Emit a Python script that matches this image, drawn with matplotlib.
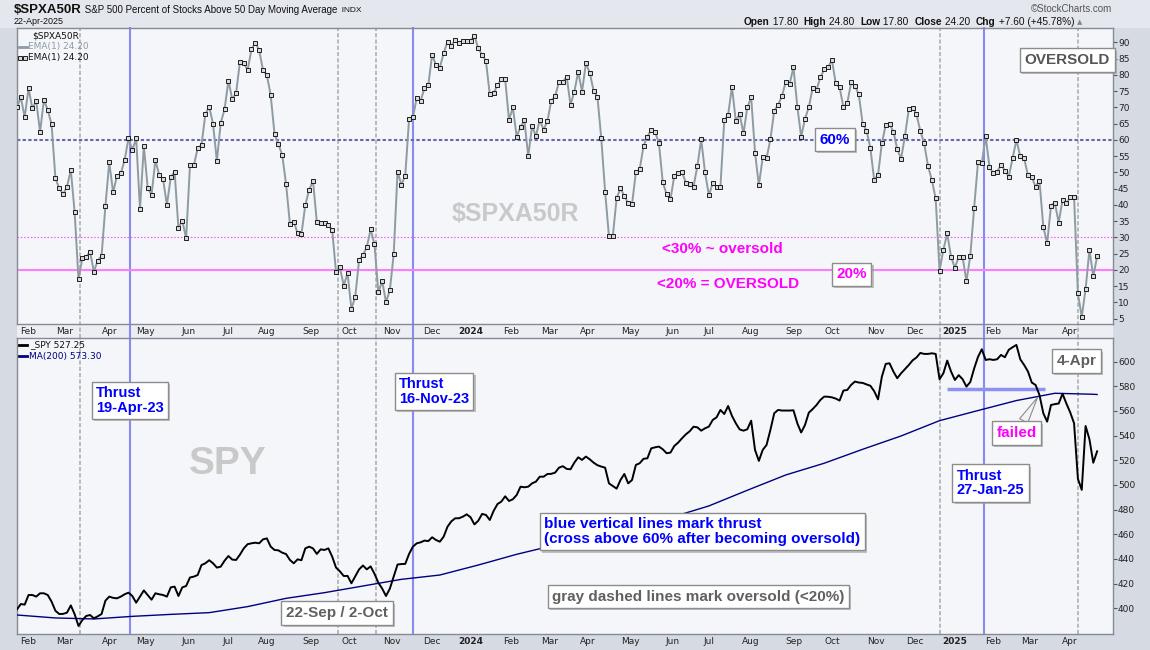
import numpy as np
import pandas as pd
import matplotlib
matplotlib.use('Agg')
import matplotlib.pyplot as plt
import matplotlib.patheffects as pe
from matplotlib.lines import Line2D
from matplotlib.patches import Rectangle

plt.rcParams['font.family'] = ['Liberation Sans', 'DejaVu Sans']

W, H = 1150, 650

# NYSE trading calendar for the charted span
holidays = ['2023-02-20', '2023-04-07', '2023-05-29', '2023-06-19', '2023-07-04',
            '2023-09-04', '2023-11-23', '2023-12-25', '2024-01-01', '2024-01-15',
            '2024-02-19', '2024-03-29', '2024-05-27', '2024-06-19', '2024-07-04',
            '2024-09-02', '2024-11-28', '2024-12-25', '2025-01-01', '2025-01-09',
            '2025-01-20', '2025-02-17', '2025-04-18']
days = pd.bdate_range('2023-01-24', '2025-04-22', freq='C', holidays=holidays)
step = 2  # one reading every second trading day

# $SPXA50R, % of S&P 500 stocks above their 50-day MA
pct = [70.1, 73.1, 67.0, 75.9, 69.7, 72.0, 62.5, 72.3, 69.2, 64.8,
       48.2, 45.1, 43.3, 45.6, 50.8, 37.7, 17.2, 23.6, 24.1, 25.6,
       19.5, 22.9, 24.3, 39.7, 53.1, 43.9, 48.9, 49.7, 53.8, 60.5,
       56.9, 60.5, 38.7, 58.2, 45.3, 43.1, 53.8, 49.2, 47.9, 40.0,
       48.5, 50.3, 32.8, 35.2, 29.7, 52.2, 52.2, 57.4, 58.5, 67.9,
       70.3, 64.9, 53.5, 65.3, 69.4, 78.3, 72.5, 74.4, 84.1, 83.6,
       81.5, 87.9, 89.9, 87.7, 81.5, 80.0, 73.8, 61.8, 58.7, 55.4,
       46.4, 34.2, 34.9, 31.3, 31.0, 40.0, 44.6, 47.5, 34.8, 34.6,
       34.4, 33.8, 32.3, 19.3, 20.8, 15.2, 19.0, 8.0, 11.8, 23.1,
       24.6, 27.0, 32.5, 27.9, 13.1, 16.6, 10.1, 13.8, 24.8, 50.3,
       46.2, 49.0, 66.4, 67.0, 73.0, 72.0, 75.9, 76.9, 86.2, 83.1,
       82.3, 86.7, 90.3, 89.0, 90.8, 89.7, 90.5, 90.5, 90.5, 92.1,
       88.2, 86.2, 84.3, 74.0, 74.5, 76.8, 78.7, 78.7, 66.2, 70.0,
       61.0, 64.1, 66.0, 55.0, 64.3, 61.2, 66.2, 63.1, 65.9, 72.1,
       73.5, 77.9, 77.9, 79.5, 70.8, 74.9, 81.0, 74.9, 83.6, 80.7,
       75.2, 73.3, 60.5, 44.1, 30.4, 30.4, 42.1, 45.1, 42.8, 40.5,
       40.2, 50.1, 51.0, 58.2, 61.0, 63.1, 62.5, 59.0, 47.0, 43.3,
       41.7, 49.0, 49.7, 50.1, 46.9, 46.5, 45.6, 52.0, 60.2, 50.0,
       43.0, 46.7, 45.6, 45.6, 66.0, 67.7, 76.4, 65.9, 67.9, 62.0,
       70.1, 73.1, 56.1, 46.0, 54.7, 54.4, 60.2, 69.0, 70.8, 73.5,
       77.9, 77.2, 82.4, 70.3, 61.0, 66.5, 70.1, 76.0, 75.4, 79.3,
       81.7, 82.4, 84.6, 77.4, 76.2, 70.1, 71.3, 77.7, 76.6, 74.0,
       65.0, 62.9, 57.6, 47.7, 49.2, 59.0, 64.6, 64.9, 62.6, 57.2,
       54.2, 61.2, 69.5, 69.9, 67.9, 62.8, 59.0, 52.0, 47.7, 42.0,
       19.8, 26.2, 31.3, 24.0, 20.7, 24.1, 23.9, 16.6, 24.3, 39.0,
       53.1, 52.8, 61.2, 51.6, 49.7, 50.3, 52.3, 50.6, 48.7, 54.4,
       60.0, 55.0, 54.4, 49.2, 48.5, 45.6, 47.5, 33.3, 28.2, 39.8,
       40.7, 34.6, 41.5, 40.5, 42.4, 42.5, 12.8, 5.6, 14.1, 26.2,
       18.0, 24.2]

# SPY close, same dates
spy = [399.2, 403.5, 403.0, 410.8, 410.8, 409.5, 412.2, 412.2, 410.8, 405.4,
       398.0, 395.4, 395.5, 396.5, 402.4, 395.2, 385.7, 390.5, 393.8, 394.6,
       391.9, 393.5, 395.4, 406.2, 409.5, 408.5, 408.1, 409.5, 411.4, 412.7,
       410.0, 404.6, 409.5, 414.5, 410.8, 407.0, 412.2, 411.4, 410.8, 409.5,
       417.0, 417.6, 410.0, 417.0, 418.1, 425.0, 425.7, 427.0, 435.1, 436.5,
       439.0, 436.5, 433.0, 433.8, 438.6, 442.4, 439.5, 439.2, 443.5, 448.6,
       452.0, 452.7, 453.2, 452.7, 455.9, 456.7, 450.0, 447.3, 447.0, 445.1,
       444.0, 439.2, 436.5, 439.7, 439.0, 448.6, 450.0, 448.6, 444.1, 447.8,
       447.3, 448.6, 441.9, 433.0, 430.0, 426.2, 426.3, 420.3, 426.0, 431.6,
       434.7, 431.6, 434.0, 428.0, 420.8, 416.0, 410.0, 416.0, 425.7, 435.5,
       435.9, 436.0, 444.1, 450.0, 452.7, 453.5, 454.9, 454.5, 457.6, 455.4,
       454.0, 458.1, 466.2, 470.5, 473.0, 473.0, 474.3, 476.2, 473.8, 468.0,
       471.0, 476.5, 475.7, 471.6, 479.0, 484.5, 486.5, 490.8, 487.0, 488.4,
       491.9, 498.6, 498.1, 498.6, 501.3, 502.7, 506.7, 506.7, 508.9, 509.0,
       510.0, 514.0, 515.2, 513.0, 512.7, 518.1, 522.4, 520.3, 523.0, 520.8,
       518.1, 516.0, 514.9, 514.0, 501.3, 499.2, 497.0, 504.0, 508.9, 501.3,
       504.0, 516.2, 517.6, 521.2, 521.6, 529.7, 530.5, 531.1, 528.9, 525.7,
       526.2, 531.6, 534.3, 537.8, 541.0, 543.5, 547.2, 546.7, 544.0, 545.9,
       547.3, 552.7, 554.8, 560.8, 557.5, 564.0, 556.0, 550.0, 545.0, 544.0,
       545.1, 552.1, 528.4, 519.5, 528.4, 532.4, 544.6, 558.1, 560.8, 560.3,
       560.3, 560.3, 560.5, 550.0, 542.5, 548.6, 558.6, 561.5, 564.8, 568.9,
       571.6, 571.5, 571.0, 570.0, 568.4, 576.5, 577.0, 581.1, 583.8, 583.0,
       582.7, 581.5, 580.4, 576.0, 569.4, 587.8, 598.1, 598.6, 591.9, 586.5,
       590.5, 593.8, 597.2, 601.0, 603.3, 607.0, 606.2, 606.2, 606.7, 606.2,
       585.7, 590.5, 600.8, 591.9, 585.1, 589.0, 585.7, 579.7, 583.4, 594.3,
       603.7, 610.0, 601.3, 601.9, 601.3, 601.9, 605.4, 603.5, 609.5, 611.6,
       613.5, 601.9, 597.3, 592.0, 583.0, 581.0, 572.9, 558.1, 551.3, 564.8,
       565.5, 566.0, 573.9, 566.0, 558.8, 550.0, 505.0, 496.0, 547.8, 537.0,
       518.0, 527.25]

# SPY 200-day moving average, one reading every 20 trading days
ma_step = 20
ma200 = [394.6, 392.2, 391.4, 393.5, 395.1, 396.5, 401.4, 408.1, 412.7, 418.1,
         423.5, 427.0, 435.1, 443.8, 451.3, 458.1, 466.2, 473.5, 483.0, 495.7,
         508.1, 517.6, 528.9, 539.7, 552.1, 560.3, 568.4, 574.3, 573.5]
ma200_last = 573.30

thrust_dates = ['2023-04-19', '2023-11-16', '2025-01-27']
oversold_dates = ['2023-03-13', '2023-09-22', '2023-10-20', '2024-12-19', '2025-04-07']
month_names = ['Jan', 'Feb', 'Mar', 'Apr', 'May', 'Jun', 'Jul', 'Aug', 'Sep', 'Oct', 'Nov', 'Dec']


def day(s):
    return days.get_loc(pd.Timestamp(s))


x = np.arange(len(pct)) * step
x_ma = np.append(np.arange(len(ma200)) * ma_step, len(days) - 1)
ma_line = ma200 + [ma200_last]

fig = plt.figure(figsize=(W / 100, H / 100), dpi=100, facecolor='#d6dae2')


def P(px, py):
    return px / W, 1 - py / H


# header strip and the gap between the panels
fig.patches.append(Rectangle((0, 1 - 28 / H), 1, 28 / H, transform=fig.transFigure,
                             fc='#e4e7ed', ec='none', zorder=-1))
fig.patches.append(Rectangle((16.5 / W, 1 - 338 / H), 1096 / W, 14 / H, transform=fig.transFigure,
                             fc='#eceef3', ec='none', zorder=-1))

left, width = 16.5 / W, 1096 / W
ax1 = fig.add_axes([left, (H - 324) / H, width, 296 / H])
ax2 = fig.add_axes([left, (H - 634) / H, width, 296 / H])

for ax in (ax1, ax2):
    ax.set_facecolor('#f4f6fa')
    for sp in ax.spines.values():
        sp.set_color('#858a94')
        sp.set_linewidth(1)
    ax.set_xlim(-0.26, 570)
    ax.yaxis.tick_right()
    ax.tick_params(axis='y', length=3, width=0.8, color='#555', pad=1, labelsize=6.5,
                   labelcolor='#222', labelfontfamily='DejaVu Sans')
    ax.tick_params(axis='x', length=0, pad=2.5, labelsize=6.5, labelcolor='#222',
                   labelfontfamily='DejaVu Sans')

# month labels at the first trading day of each month
pos = pd.Series(np.arange(len(days)), index=days)
firsts = pos.groupby(days.to_period('M')).first().iloc[1:]
tick_pos = firsts.values
tick_lab = [str(p.year) if p.month == 1 else month_names[p.month - 1] for p in firsts.index]
gap = 14 / 296
for ax in (ax1, ax2):
    ax.set_xticks(tick_pos)
    ax.set_xticklabels(tick_lab)
    for t in ax.get_xticklabels():
        if t.get_text().isdigit():
            t.set_fontweight('bold')

# vertical marker lines (carry on through the gap between panels)
for d in thrust_dates:
    ax1.axvline(day(d), ymin=-gap, ymax=1, color='#8a8af2', lw=1.5, zorder=1, clip_on=False)
    ax2.axvline(day(d), color='#8a8af2', lw=1.5, zorder=1)
for d in oversold_dates:
    ax1.axvline(day(d), ymin=-gap, ymax=1, color='#a9a9a9', lw=1.1, ls=(0, (2.7, 1.4)),
                zorder=1, clip_on=False)
    ax2.axvline(day(d), color='#a9a9a9', lw=1.1, ls=(0, (2.7, 1.4)), zorder=1)

# ---- top panel
ax1.set_ylim(3.38, 94.46)
ax1.set_yticks(range(5, 95, 5))
ax1.axhline(60, color='#6767b2', lw=1.5, ls=(0, (1.6, 1.1)), zorder=1)
ax1.axhline(30, color='#ff55ff', lw=0.8, ls=(0, (1.4, 1.6)), zorder=1)
ax1.axhline(20, color='#ff7cff', lw=1.5, zorder=1)
ax1.text(0.4548, 0.3716, '$SPXA50R', transform=ax1.transAxes, ha='center', va='center',
         fontsize=18, fontweight='bold', color='#c9c9c9', zorder=0.5)
ax1.plot(x, pct, color='#8e9ba3', lw=1.4, zorder=3)
ax1.plot(x, pct, ls='none', marker='s', ms=2.4, mfc='#d8d8d8', mec='#111', mew=0.65, zorder=4)

# ---- bottom panel
ax2.set_ylim(379.2, 619.1)
ax2.set_yticks(range(400, 601, 20))
ax2.text(0.193, 0.574, 'SPY', transform=ax2.transAxes, ha='center', va='center',
         fontsize=28, fontweight='bold', color='#c9c9c9', zorder=0.5)
ax2.hlines(578, day('2024-12-26'), day('2025-03-13'), color='#9090f2', lw=2.5, zorder=2)
ax2.plot(x_ma, ma_line, color='#00007f', lw=1, zorder=3)
ax2.plot(x, spy, color='black', lw=1.4, zorder=4)

# ---- header
r = fig.canvas.get_renderer()


def run(px, py, pieces):
    for s, kw in pieces:
        t = fig.text(*P(px, py), s, va='center', ha='left', **kw)
        px += t.get_window_extent(renderer=r).width
    return px


run(14, 10, [('$SPXA50R', dict(fontsize=9.5, fontweight='bold', color='#111')),
             (' S&P 500 Percent of Stocks Above 50 Day Moving Average', dict(fontsize=7, color='#111')),
             ('  INDX', dict(fontsize=6, color='#111'))])
fig.text(*P(14, 22), '22-Apr-2025', fontsize=6.5, va='center', color='#111')
fig.text(*P(1112, 9), '\u00a9StockCharts.com', fontsize=7, ha='right', va='center', color='#555')
bold = dict(fontsize=7.3, fontweight='bold', color='#111')
reg = dict(fontsize=7.3, color='#111')
run(744, 22, [('Open', bold), (' 17.80  ', reg), ('High', bold), (' 24.80  ', reg),
              ('Low', bold), (' 17.80  ', reg), ('Close', bold), (' 24.20  ', reg),
              ('Chg', bold), (' +7.60 (+45.78%) ', reg),
              ('\u25b2', dict(fontsize=5, color='#888', family='DejaVu Sans'))])

# ---- legends
fig.text(*P(32, 35.5), '$SPXA50R', fontsize=6.5, va='center', color='#111', family='DejaVu Sans')
fig.lines.append(Line2D([19 / W, 27 / W], [1 - 46.5 / H] * 2, transform=fig.transFigure,
                        color='#8e9ba3', lw=2))
fig.text(*P(28, 46.5), 'EMA(1) 24.20', fontsize=6.5, va='center', color='#8e9ba3', family='DejaVu Sans')
fig.lines.append(Line2D([20 / W, 25 / W], [1 - 57.5 / H] * 2, transform=fig.transFigure, ls='none',
                        marker='s', ms=2.2, mfc='#d8d8d8', mec='#111', mew=0.65))
fig.text(*P(28, 57.5), 'EMA(1) 24.20', fontsize=6.5, va='center', color='#111', family='DejaVu Sans')

fig.lines.append(Line2D([19 / W, 27 / W], [1 - 345 / H] * 2, transform=fig.transFigure, color='black', lw=2))
fig.text(*P(30, 345), '_SPY 527.25', fontsize=6.5, va='center', color='#111', family='DejaVu Sans')
fig.lines.append(Line2D([19 / W, 27 / W], [1 - 356 / H] * 2, transform=fig.transFigure, color='#00007f', lw=2))
fig.text(*P(29, 356), 'MA(200) 573.30', fontsize=6.5, va='center', color='#00007f', family='DejaVu Sans')

# ---- notes
shadow = [pe.SimplePatchShadow(offset=(1.6, -1.6), shadow_rgbFace='#9a9a9a', alpha=0.6), pe.Normal()]
box = dict(boxstyle='square,pad=0.3', fc='white', ec='#8c8c8c', lw=1)


def note(px, py, s, color, size=10.5, framed=True):
    t = fig.text(*P(px, py), s, ha='center', va='center', multialignment='left', color=color,
                 fontsize=size, fontweight='bold', linespacing=1.05,
                 bbox=box if framed else None)
    if framed:
        t.get_bbox_patch().set_path_effects(shadow)
    return t


BLUE, MAG, GRAY = '#0000ff', '#ff00ff', '#606060'
note(1067.5, 60, 'OVERSOLD', '#555555', 11)
note(835, 139.5, '60%', BLUE, 11)
note(851.5, 274.5, '20%', MAG, 11)
note(722, 249, '<30% ~ oversold', MAG, 11, framed=False)
note(728, 284, '<20% = OVERSOLD', MAG, 11, framed=False)

note(130, 400.5, 'Thrust\n19-Apr-23', BLUE, 10.5)
note(434, 391.5, 'Thrust\n16-Nov-23', BLUE, 10.5)
note(990.5, 483, 'Thrust\n27-Jan-25', BLUE, 10.5)
note(337, 613, '22-Sep / 2-Oct', GRAY, 11)
note(702.5, 531.5, 'blue vertical lines mark thrust\n(cross above 60% after becoming oversold)', BLUE, 11)
note(698.5, 596.5, 'gray dashed lines mark oversold (<20%)', GRAY, 11)
note(1076.5, 361, '4-Apr', GRAY, 11)

fa = ax2.annotate('failed', xy=(day('2025-03-07'), 571), xytext=(1016.5, H - 433),
                  textcoords='figure pixels', ha='center', va='center', color=MAG,
                  fontsize=11, fontweight='bold', bbox=box,
                  arrowprops=dict(arrowstyle='wedge,tail_width=0.6', fc='#f2f2f2', ec='#8c8c8c',
                                  lw=0.8, shrinkA=0, shrinkB=0), zorder=6)
fa.get_bbox_patch().set_path_effects(shadow)

fig.savefig('out.png', dpi=100, facecolor=fig.get_facecolor())
